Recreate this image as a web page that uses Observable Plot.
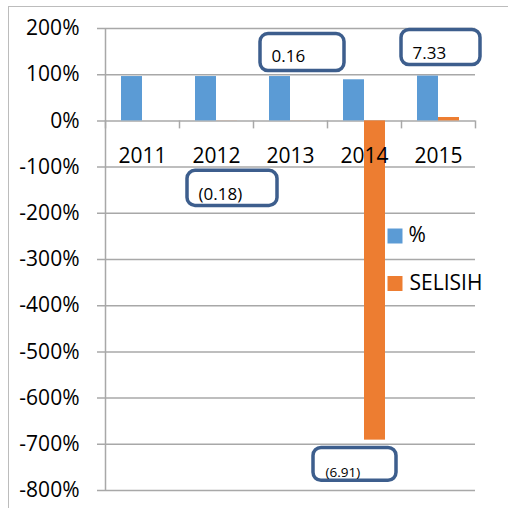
<!DOCTYPE html>
<html><head><meta charset="utf-8">
<script src="https://cdn.jsdelivr.net/npm/d3@7"></script>
<script src="https://cdn.jsdelivr.net/npm/@observablehq/plot@0.6"></script>
<style>
html,body{margin:0;padding:0;background:#fff;}
#wrap{position:relative;width:508px;height:508px;overflow:hidden;}
#border{position:absolute;left:8px;top:6px;width:600px;height:600px;border-top:1.5px solid #bcbcbc;border-left:1.5px solid #bcbcbc;pointer-events:none;}
</style></head><body>
<div id="wrap"><div id="chart"></div><div id="border"></div></div>
<script>
// ---- data ----
const years = ["2011", "2012", "2013", "2014", "2015"];
const pct = [96, 96, 96, 89, 97];            // series "%"
const selisih = [0, -0.18, 0.16, -691, 7.33]; // series "SELISIH"
const seriesNames = ["%", "SELISIH"];
const seriesColors = ["#5b9bd5", "#ed7d31"];
const yTicks = d3.range(-800, 201, 100);
const calloutYears = ["2012", "2013", "2014", "2015"];
const calloutLabels = ["(0.18)", "0.16", "(6.91)", "7.33"];

// ---- annotation layout (callout boxes, in value units + pixel offsets) ----
const calloutLayout = [
  {top: -108, bottom: -184, inL: 8,   inR: -24, tdx: -18, base: -171, fs: 17},
  {top: 188,  bottom: 108,  inL: 7,   inR: -17, tdx: -19, base: 128,  fs: 17},
  {top: -708, bottom: -779, inL: -14, inR: 5,   tdx: -39, base: -770, fs: 13.5},
  {top: 197,  bottom: 121,  inL: 0,   inR: -5,  tdx: -26, base: 134,  fs: 17}
];

const rows = years.map((year, i) => ({year, pct: pct[i], selisih: selisih[i]}));
const grid = "#a8a8a8";
const half = 37; // half band width in px

const calloutMarks = calloutYears.flatMap((yr, i) => {
  const L = calloutLayout[i];
  const d = [{year: yr, top: L.top, bottom: L.bottom, base: L.base, label: calloutLabels[i]}];
  return [
    Plot.barY(d, {x: "year", y1: "bottom", y2: "top", insetLeft: L.inL, insetRight: L.inR,
      rx: 8, ry: 8, fill: "white", stroke: "#3d5e8d", strokeWidth: 3.5}),
    Plot.text(d, {x: "year", y: "base", text: "label", dx: L.tdx, textAnchor: "start",
      lineAnchor: "bottom", fontSize: L.fs, fill: "black"})
  ];
});

const chart = Plot.plot({
  width: 508,
  height: 508,
  marginLeft: 105,
  marginRight: 33,
  marginTop: 28,
  marginBottom: 18,
  style: {fontFamily: "'Open Sans', sans-serif", fontSize: "21px", color: "black", background: "white"},
  x: {type: "band", domain: years, padding: 0, axis: null},
  y: {domain: [-800, 200], ticks: yTicks, tickFormat: d => d + "%", tickSize: 0, tickPadding: 26, label: null},
  marks: [
    Plot.ruleY(yTicks, {stroke: grid, strokeWidth: 1.5, insetLeft: -8}),
    Plot.ruleX([years[0]], {dx: -half, stroke: grid, strokeWidth: 1.5}),
    Plot.ruleX(years, {dx: -half, y1: 0, y2: -17.3, stroke: grid, strokeWidth: 1.5}),
    Plot.ruleX([years[years.length - 1]], {dx: half, y1: 0, y2: -17.3, stroke: grid, strokeWidth: 1.5}),
    Plot.barY(rows, {x: "year", y: "pct", fill: seriesColors[0], insetLeft: 16, insetRight: 37}),
    Plot.barY(rows, {x: "year", y: "selisih", fill: seriesColors[1], insetLeft: 37, insetRight: 16}),
    Plot.text(rows, {x: "year", y: () => 0, text: "year", dy: 42, lineAnchor: "bottom", fontSize: 21, fill: "black"}),
    ...calloutMarks,
    Plot.dot([seriesNames[0]], {frameAnchor: "top-left", dx: 289.5, dy: 207.5, symbol: "square", r: 8.46, fill: seriesColors[0]}),
    Plot.dot([seriesNames[1]], {frameAnchor: "top-left", dx: 289.5, dy: 255, symbol: "square", r: 8.46, fill: seriesColors[1]}),
    Plot.text([seriesNames[0]], {frameAnchor: "top-left", text: d => d, dx: 303, dy: 207, textAnchor: "start", lineAnchor: "middle", fontSize: 21, fill: "black"}),
    Plot.text([seriesNames[1]], {frameAnchor: "top-left", text: d => d, dx: 304, dy: 255, textAnchor: "start", lineAnchor: "middle", fontSize: 21, fill: "black"})
  ]
});
document.getElementById("chart").appendChild(chart);
</script>
</body></html>
